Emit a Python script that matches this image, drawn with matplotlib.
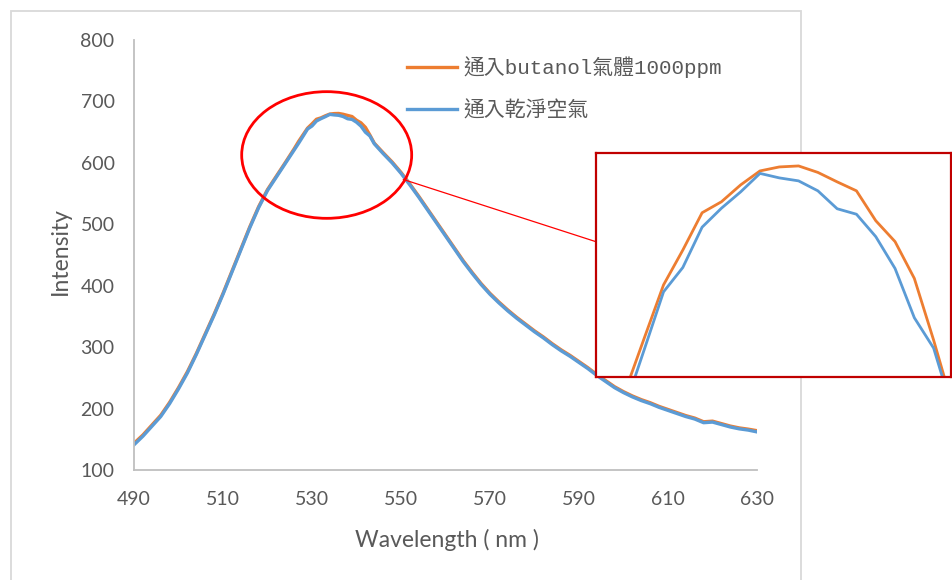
import matplotlib
matplotlib.use("Agg")
import matplotlib.pyplot as plt
from matplotlib.patches import Ellipse, Rectangle, ConnectionPatch

# Emission spectra (nm, intensity)
wavelength = [
    490, 492, 494, 496, 498, 500, 502, 504, 506, 508, 510, 512, 514, 516, 518,
    520, 522, 524, 526,
    527, 528, 529, 530, 531, 532, 533, 534, 535, 536, 537, 538, 539, 540, 541,
    542, 543, 544,
    546, 548, 550, 552, 554, 556, 558, 560, 562, 564, 566, 568, 570, 572, 574,
    576, 578, 580, 582, 584, 586, 588, 590, 592, 594, 596, 598, 600, 602, 604,
    606, 608, 610, 612, 614, 616, 618, 620, 622, 624, 626, 628, 630,
]

butanol_1000ppm = [
    143.5, 157, 173, 189, 210, 234, 260, 289.5, 321.5, 353.5, 387.5, 423.5, 459.5, 495.5, 528.5,
    556.5, 578.5, 600.5, 623,
    635, 645.8, 656.5, 663.5, 671.0, 673.2, 676.6, 679.4, 680.2, 680.4, 679.1,
    677.2, 675.4, 669.4, 665.2, 657.8, 645.4, 632,
    616.5, 601.5, 584.5, 565.5, 545.5, 524.5, 503.5, 482.5, 461.5, 440.5, 421.5,
    403.5, 387.5, 373.5, 360.5, 348.5, 337.5, 326.5, 316.5, 305.5, 295.5, 286.5,
    276.5, 266.5, 255.5, 245.5, 235.5, 227.5, 220.5, 214.5, 209.5, 203.5, 198.5, 193.5,
    188.5, 184.5, 178.5, 179.5, 175.5, 171.5, 168.5, 166.5, 164,
]

clean_air = [
    141, 155, 171, 187, 208, 232, 258, 288, 320, 352, 386, 422, 458, 494, 527,
    555, 577, 599, 621,
    632, 643.5, 655.1, 660.0, 668.1, 671.9, 675.2, 678.9, 678.0, 677.4, 675.4,
    671.8, 670.7, 666.2, 659.8, 649.9, 643.8, 631,
    615, 600, 583, 564, 544, 523, 502, 481, 460, 439, 420, 402, 386, 372, 359,
    347, 336, 325, 315, 304, 294, 285, 275, 265, 254, 244, 234, 226, 219, 213,
    208, 202, 197, 192, 187, 183, 177, 178, 174, 170, 167, 165, 162,
]

series_labels = ["通入butanol氣體1000ppm", "通入乾淨空氣"]
x_ticks = [490, 510, 530, 550, 570, 590, 610, 630]
y_ticks = [100, 200, 300, 400, 500, 600, 700, 800]

ORANGE = "#ED7D31"
BLUE = "#5B9BD5"
TEXT = "#595959"
AXIS = "#BFBFBF"

plt.rcParams["font.family"] = ["Lato", "Noto Sans CJK TC", "DejaVu Sans"]

W, H = 952, 580
fig = plt.figure(figsize=(W / 100, H / 100), dpi=100)
fig.patch.set_facecolor("white")

# chart-area outline
fig.add_artist(Rectangle((11 / W, -0.05), (801 - 11) / W, (H - 11) / H + 0.05,
                         transform=fig.transFigure, fill=False,
                         edgecolor="#D9D9D9", lw=1.3, zorder=-1))

ax = fig.add_axes([134 / W, (H - 470) / H, 623 / W, 430 / H])
ax.patch.set_alpha(0)
ax.plot(wavelength, butanol_1000ppm, color=ORANGE, lw=2.4,
        solid_joinstyle="round", label=series_labels[0])
ax.plot(wavelength, clean_air, color=BLUE, lw=2.4,
        solid_joinstyle="round", label=series_labels[1])
ax.set_xlim(490, 630)
ax.set_ylim(100, 800)
ax.set_xticks(x_ticks)
ax.set_yticks(y_ticks)
ax.tick_params(axis="both", length=0, labelsize=14, labelcolor=TEXT)
ax.tick_params(axis="x", pad=15)
ax.tick_params(axis="y", pad=14)
for side in ("top", "right"):
    ax.spines[side].set_visible(False)
for side in ("left", "bottom"):
    ax.spines[side].set_color(AXIS)
    ax.spines[side].set_linewidth(1.3)

ax.set_xlabel("Wavelength ( nm )", fontsize=16.5, color=TEXT)
ax.set_ylabel("Intensity", fontsize=16.5, color=TEXT)
ax.xaxis.set_label_coords(0.502, -0.137)
ax.yaxis.set_label_coords(-0.102, 0.51)

leg = ax.legend(loc="upper left", bbox_to_anchor=(407 / W, (H - 56) / H),
                bbox_transform=fig.transFigure, frameon=False,
                prop={"family": ["Liberation Mono", "Noto Sans CJK TC"], "size": 15},
                labelcolor=TEXT, handlelength=2.4, handletextpad=0.3,
                labelspacing=1.08, borderpad=0, borderaxespad=0)

# highlight around the peak
ax.add_patch(Ellipse((533.3, 612.8), 38.2, 206.2, fill=False,
                     edgecolor="#FF0000", lw=2.0, zorder=4))

# zoomed view of the peak
axin = fig.add_axes([596 / W, (H - 377) / H, 355 / W, 224 / H], zorder=5)
axin.set_facecolor("white")
axin.plot(wavelength, butanol_1000ppm, color=ORANGE, lw=2.0, solid_joinstyle="round")
axin.plot(wavelength, clean_air, color=BLUE, lw=2.0, solid_joinstyle="round")
axin.set_xlim(525.5, 543.9)
axin.set_ylim(638, 683)
axin.set_xticks([])
axin.set_yticks([])
for sp in axin.spines.values():
    sp.set_color("#C00000")
    sp.set_linewidth(1.6)

con = ConnectionPatch(xyA=(550.5, 573), coordsA=ax.transData, axesA=ax,
                      xyB=(0, 0.604), coordsB=axin.transAxes, axesB=axin,
                      color="#FF0000", lw=0.9, shrinkA=0, shrinkB=0)
fig.add_artist(con)

fig.savefig("out.png", dpi=100, facecolor="white")
